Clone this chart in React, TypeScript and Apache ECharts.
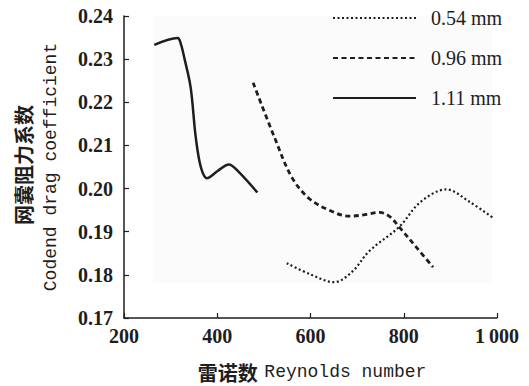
import React, { useEffect, useRef } from "react";
import * as echarts from "echarts";

const seriesNames = ["0.54 mm", "0.96 mm", "1.11 mm"];

const d054: [number, number][] = [
  [549, 0.1827], [600, 0.1801], [651, 0.1783], [690, 0.1808], [726, 0.1855],
  [791, 0.1912], [835, 0.1968], [891, 0.1998], [940, 0.197], [993, 0.1931],
];
const d096: [number, number][] = [
  [477, 0.2245], [523, 0.2118], [560, 0.2026], [597, 0.1977], [640, 0.195],
  [683, 0.1936], [720, 0.194], [748, 0.1945], [770, 0.1935], [791, 0.191],
  [830, 0.186], [863, 0.1818],
];
const d111: [number, number][] = [
  [265, 0.2333], [315, 0.2349], [322, 0.2335], [330, 0.23], [343, 0.2234],
  [354, 0.2118], [365, 0.2049], [378, 0.2024], [400, 0.204], [425, 0.2056],
  [445, 0.204], [486, 0.1991],
];

const xTicks = [200, 400, 600, 800, 1000];
const yTicks = [0.17, 0.18, 0.19, 0.2, 0.21, 0.22, 0.23, 0.24];

const INK = "#1e1e1e";
const SERIF = "'Liberation Serif', serif";
const MONO = "'Liberation Mono', monospace";
const CJK = "'Noto Sans CJK SC', sans-serif";

export default function App() {
  const ref = useRef<HTMLDivElement>(null);
  useEffect(() => {
    if (!ref.current) return;
    const chart = echarts.init(ref.current, undefined, { renderer: "svg" });
    const lineSeries = (name: string, data: [number, number][], type: any, width: number) => ({
      name,
      type: "line",
      data,
      smooth: 0.35,
      symbol: "none",
      lineStyle: { color: INK, width, type },
      itemStyle: { color: INK },
      z: 3,
    });
    chart.setOption({
      animation: false,
      backgroundColor: "#ffffff",
      grid: { left: 124, right: 32, top: 16, bottom: 68 },
      xAxis: {
        type: "value",
        min: xTicks[0],
        max: xTicks[xTicks.length - 1],
        interval: 200,
        axisLine: { show: true, lineStyle: { color: INK, width: 1.5 } },
        axisTick: { show: true, inside: true, length: 5, lineStyle: { color: INK, width: 1.2 } },
        splitLine: { show: false },
        axisLabel: {
          color: INK,
          fontFamily: SERIF,
          fontSize: 20,
          fontWeight: "bold",
          margin: 8,
          formatter: (v: number) => (v >= 1000 ? "1\u2009000" : String(v)),
        },
      },
      yAxis: {
        type: "value",
        min: yTicks[0],
        max: yTicks[yTicks.length - 1],
        interval: 0.01,
        axisLine: { show: true, lineStyle: { color: INK, width: 1.5 } },
        axisTick: { show: true, inside: true, length: 5, lineStyle: { color: INK, width: 1.2 } },
        splitLine: { show: false },
        axisLabel: {
          color: INK,
          fontFamily: SERIF,
          fontSize: 20,
          fontWeight: "bold",
          margin: 11,
          formatter: (v: number) => v.toFixed(2),
        },
      },
      legend: {
        orient: "vertical",
        left: 327,
        top: 3,
        itemWidth: 83,
        itemHeight: 14,
        itemGap: 20,
        data: seriesNames,
        itemStyle: { opacity: 0, borderWidth: 0 },
        textStyle: {
          color: INK,
          fontFamily: SERIF,
          fontSize: 20,
          lineHeight: 15,
          padding: [0, 0, 0, 10],
        },
      },
      graphic: [
        {
          type: "rect",
          z: -10,
          silent: true,
          shape: { x: 153, y: 16, width: 339, height: 267 },
          style: { fill: "#fbfbfb" },
        },
        {
          type: "text",
          x: 23,
          y: 165,
          rotation: Math.PI / 2,
          style: {
            text: "网囊阻力系数",
            font: `bold 20px ${CJK}`,
            fill: INK,
            align: "center",
            verticalAlign: "middle",
          },
        },
        {
          type: "text",
          x: 51,
          y: 167,
          rotation: Math.PI / 2,
          style: {
            text: "Codend drag coefficient",
            font: `18px ${MONO}`,
            fill: INK,
            align: "center",
            verticalAlign: "middle",
          },
        },
        {
          type: "text",
          x: 312,
          y: 372,
          style: {
            text: "{a|雷诺数}  {b|Reynolds number}",
            align: "center",
            verticalAlign: "middle",
            fill: INK,
            rich: {
              a: { font: `bold 20px ${CJK}`, fill: INK },
              b: { font: `18px ${MONO}`, fill: INK },
            },
          },
        },
      ],
      series: [
        lineSeries(seriesNames[0], d054, [2, 2.5], 2.2),
        lineSeries(seriesNames[1], d096, [5, 3.5], 2.8),
        lineSeries(seriesNames[2], d111, "solid", 2.5),
      ],
    });
    return () => chart.dispose();
  }, []);
  return (
    <div
      ref={ref}
      style={{ position: "fixed", left: 0, top: 0, width: 529, height: 386 }}
    />
  );
}
